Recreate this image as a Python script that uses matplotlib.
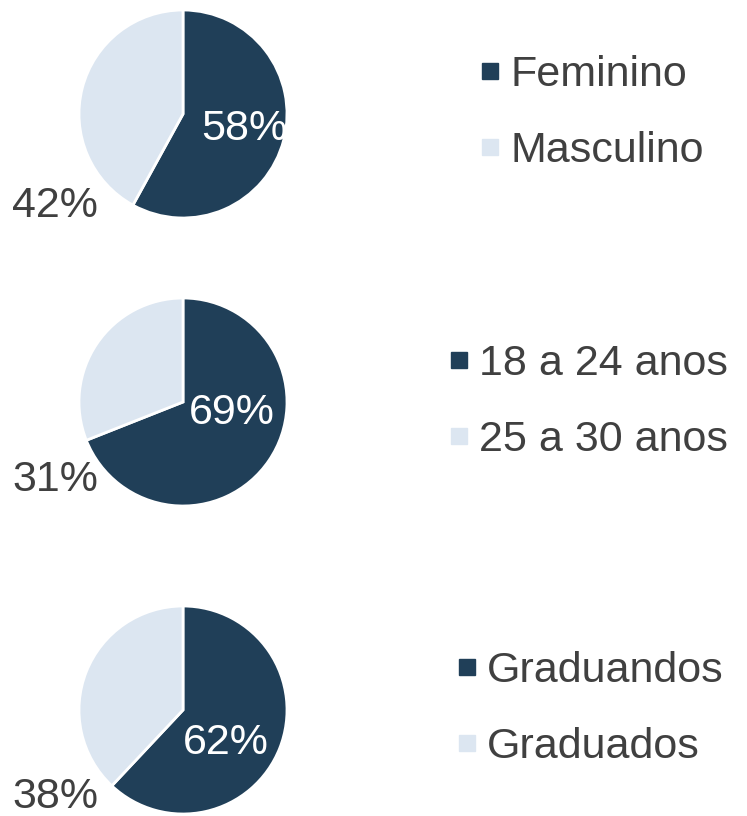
import matplotlib.pyplot as plt
from matplotlib.lines import Line2D

plt.rcParams['font.family'] = ['Liberation Sans', 'DejaVu Sans']

# Data
groups = [
    ['Feminino', 'Masculino'],
    ['18 a 24 anos', '25 a 30 anos'],
    ['Graduandos', 'Graduados'],
]
values = [
    [58, 42],
    [69, 31],
    [62, 38],
]

dark = '#203f58'
light = '#dce6f1'
txt = '#404040'

# label positions (in pie units, radius 1), dark inside, light outside
inner_pos = [(0.59, -0.14), (0.47, -0.11), (0.41, -0.32)]
outer_pos = [(-1.23, -0.88), (-1.23, -0.75), (-1.23, -0.84)]

fig = plt.figure(figsize=(7.47, 8.16), dpi=100)
W, H = 747, 816
r_px = 104
centers_y = [114, 402, 710]
legend_x = [478, 447, 455]
legend_y = [113, 402, 709]

for i in range(3):
    cy = centers_y[i]
    ax = fig.add_axes([(183 - r_px) / W, 1 - (cy + r_px) / H, 2 * r_px / W, 2 * r_px / H])
    ax.pie(values[i], colors=[dark, light], startangle=90, counterclock=False,
           wedgeprops=dict(edgecolor='white', linewidth=2))
    ax.set_xlim(-1, 1)
    ax.set_ylim(-1, 1)
    ax.text(*inner_pos[i], f'{values[i][0]}%', color='white', fontsize=31,
            ha='center', va='center')
    ax.text(*outer_pos[i], f'{values[i][1]}%', color=txt, fontsize=31,
            ha='center', va='center')

    handles = [Line2D([], [], marker='s', linestyle='none', markersize=12,
                      markerfacecolor=c, markeredgecolor=c) for c in (dark, light)]
    leg = fig.legend(handles, groups[i], loc='center left',
                     bbox_to_anchor=(legend_x[i] / W, 1 - legend_y[i] / H),
                     frameon=False, fontsize=31, handlelength=0.55,
                     handletextpad=0.2, labelspacing=0.85, borderpad=0,
                     borderaxespad=0)
    for t in leg.get_texts():
        t.set_color(txt)

fig.savefig('out.png', dpi=100, facecolor='white')
